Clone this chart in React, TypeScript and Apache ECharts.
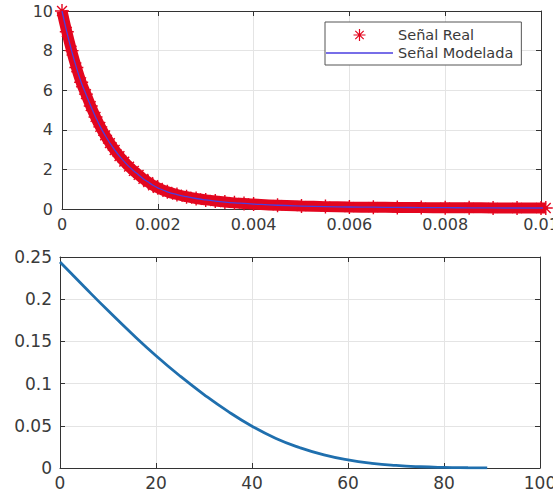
import React, { useEffect, useRef } from "react";
import * as echarts from "echarts";

// ---- Top plot: time (s) and signal values ----
const timeValues = [
  0, 0.0001, 0.0002, 0.0003, 0.0004, 0.0005, 0.0006, 0.0007, 0.0008, 0.0009,
  0.001, 0.0011, 0.0012, 0.0013, 0.0014, 0.0015, 0.0016, 0.0017, 0.0018, 0.0019,
  0.002, 0.0022, 0.0024, 0.0026, 0.0028, 0.003, 0.0032, 0.0034, 0.0036, 0.0038,
  0.004, 0.0045, 0.005, 0.0055, 0.006, 0.0065, 0.007, 0.0075, 0.008, 0.0085,
  0.009, 0.0095, 0.01, 0.0101,
];
const realSignal = [
  10, 8.95, 8.0, 7.15, 6.4, 5.8, 5.2, 4.65, 4.15, 3.72,
  3.33, 2.98, 2.67, 2.39, 2.14, 1.92, 1.72, 1.52, 1.36, 1.2,
  1.07, 0.87, 0.73, 0.62, 0.53, 0.46, 0.4, 0.35, 0.31, 0.28,
  0.25, 0.19, 0.15, 0.12, 0.1, 0.09, 0.08, 0.07, 0.065, 0.06,
  0.055, 0.05, 0.05, 0.05,
];
const modelSignal = [
  10, 8.95, 8.0, 7.15, 6.4, 5.8, 5.2, 4.65, 4.15, 3.72,
  3.33, 2.98, 2.67, 2.39, 2.14, 1.92, 1.72, 1.52, 1.36, 1.2,
  1.07, 0.87, 0.73, 0.62, 0.53, 0.46, 0.4, 0.35, 0.31, 0.28,
  0.25, 0.19, 0.15, 0.12, 0.1, 0.09, 0.08, 0.07, 0.065, 0.06,
  0.055, 0.05, 0.05, 0.05,
];

// ---- Bottom plot ----
const lowerX = [0, 5, 10, 15, 20, 25, 30, 35, 40, 45, 50, 55, 60, 65, 70, 75, 80, 85, 89];
const lowerY = [
  0.244, 0.215, 0.1865, 0.159, 0.133, 0.109, 0.087, 0.067, 0.0495, 0.035,
  0.024, 0.0155, 0.0095, 0.0055, 0.003, 0.0015, 0.0007, 0.0003, 0.0001,
];

const legendNames = ["Señal Real", "Señal Modelada"];

const ASTERISK =
  "path://M-0.5,-5L0.5,-5L0.5,5L-0.5,5Z" +
  "M-5,-0.5L5,-0.5L5,0.5L-5,0.5Z" +
  "M-3.15,-3.85L3.85,3.15L3.15,3.85L-3.85,-3.15Z" +
  "M3.85,-3.15L-3.15,3.85L-3.85,3.15L3.15,-3.85Z";
const LINE_ICON = "path://M0,0L67,0L67,1.3L0,1.3Z";

const FONT = "DejaVu Sans";
const AXIS_COLOR = "#333333";
const LABEL_COLOR = "#3a3a3a";
const GRID_COLOR = "#e4e4e4";
const RED = "#e3061f";
const BLUE_MODEL = "#4a3ee0";

function mainAxis(extra: any) {
  return {
    type: "value",
    axisLine: { show: true, onZero: false, lineStyle: { color: AXIS_COLOR, width: 1 } },
    axisTick: { show: true, inside: true, length: 5, lineStyle: { color: AXIS_COLOR } },
    splitLine: { show: true, lineStyle: { color: GRID_COLOR, width: 1 } },
    ...extra,
  };
}
function mirrorAxis(extra: any) {
  return {
    type: "value",
    axisLine: { show: true, onZero: false, lineStyle: { color: AXIS_COLOR, width: 1 } },
    axisTick: { show: true, inside: true, length: 5, lineStyle: { color: AXIS_COLOR } },
    splitLine: { show: false },
    axisLabel: { show: false },
    ...extra,
  };
}
function label(size: number, margin: number) {
  return { color: LABEL_COLOR, fontSize: size, fontFamily: FONT, margin };
}

export default function App() {
  const ref = useRef<HTMLDivElement>(null);
  useEffect(() => {
    if (!ref.current) return;
    const chart = echarts.init(ref.current, null, { renderer: "svg" });
    const topData = timeValues.map((t, i) => [t, realSignal[i]]);
    const modelData = timeValues.map((t, i) => [t, modelSignal[i]]);
    const lowerData = lowerX.map((x, i) => [x, lowerY[i]]);
    chart.setOption({
      animation: false,
      backgroundColor: "#ffffff",
      grid: [
        { left: 62, top: 11, width: 479, height: 198 },
        { left: 60, top: 257, width: 480, height: 211 },
      ],
      xAxis: [
        mainAxis({ gridIndex: 0, min: 0, max: 0.01, interval: 0.002, position: "bottom", axisLabel: label(16, 7) }),
        mirrorAxis({ gridIndex: 0, min: 0, max: 0.01, interval: 0.002, position: "top" }),
        mainAxis({ gridIndex: 1, min: 0, max: 100, interval: 20, position: "bottom", axisLabel: label(17, 6) }),
        mirrorAxis({ gridIndex: 1, min: 0, max: 100, interval: 20, position: "top" }),
      ],
      yAxis: [
        mainAxis({ gridIndex: 0, min: 0, max: 10, interval: 2, position: "left", axisLabel: label(16, 9) }),
        mirrorAxis({ gridIndex: 0, min: 0, max: 10, interval: 2, position: "right" }),
        mainAxis({ gridIndex: 1, min: 0, max: 0.25, interval: 0.05, position: "left", axisLabel: label(17, 8) }),
        mirrorAxis({ gridIndex: 1, min: 0, max: 0.25, interval: 0.05, position: "right" }),
      ],
      legend: {
        orient: "vertical",
        left: 325,
        top: 22,
        padding: [5, 8, 4, 1],
        backgroundColor: "#ffffff",
        borderColor: "#555555",
        borderWidth: 1,
        borderRadius: 0,
        itemWidth: 67,
        itemHeight: 12,
        itemGap: 2,
        selectedMode: false,
        textStyle: { fontSize: 14.5, fontFamily: FONT, color: "#3a3a3a", lineHeight: 16 },
        data: [
          { name: legendNames[0], icon: ASTERISK, itemStyle: { color: RED } },
          { name: legendNames[1], icon: LINE_ICON, itemStyle: { color: BLUE_MODEL } },
        ],
      },
      series: [
        {
          name: legendNames[0],
          type: "line",
          xAxisIndex: 0,
          yAxisIndex: 0,
          data: topData,
          clip: false,
          smooth: true,
          symbol: ASTERISK,
          symbolSize: 14,
          showSymbol: true,
          showAllSymbol: true,
          lineStyle: { color: RED, width: 11 },
          itemStyle: { color: RED },
          z: 2,
        },
        {
          name: legendNames[1],
          type: "line",
          xAxisIndex: 0,
          yAxisIndex: 0,
          data: modelData,
          smooth: true,
          symbol: "none",
          lineStyle: { color: BLUE_MODEL, width: 1.3 },
          itemStyle: { color: BLUE_MODEL },
          z: 3,
        },
        {
          name: "lower",
          type: "line",
          xAxisIndex: 2,
          yAxisIndex: 2,
          data: lowerData,
          smooth: true,
          symbol: "none",
          lineStyle: { color: "#1f6fae", width: 2.8 },
          z: 2,
        },
      ],
    });
    return () => chart.dispose();
  }, []);
  return (
    <div
      ref={ref}
      style={{ position: "fixed", left: 0, top: 0, width: 580, height: 496, background: "#fff" }}
    />
  );
}
